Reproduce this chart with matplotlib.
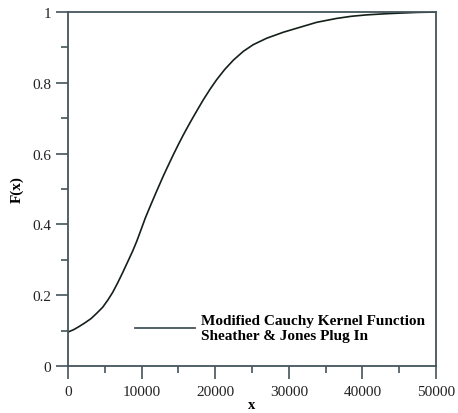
import matplotlib
matplotlib.use("Agg")
import matplotlib.pyplot as plt
from matplotlib.ticker import MultipleLocator

# values
x_vals = [0, 800, 1540, 2300, 3130, 3900, 4710, 5400, 6070, 6750, 7430, 8100,
          8790, 9330, 9920, 10500, 11140, 12000, 12950, 13600, 14310, 15000,
          15670, 16350, 17030, 17700, 18380, 19300, 20200, 21300, 22460,
          23820, 25180, 26990, 29260, 31520, 33790, 36500, 38500, 40580,
          43000, 45110, 47500, 50000]
f_vals = [0.096, 0.103, 0.112, 0.122, 0.134, 0.149, 0.166, 0.186, 0.208, 0.235,
          0.264, 0.294, 0.325, 0.352, 0.385, 0.418, 0.450, 0.492, 0.537, 0.566,
          0.597, 0.626, 0.653, 0.679, 0.704, 0.728, 0.752, 0.782, 0.809, 0.838,
          0.864, 0.889, 0.908, 0.926, 0.943, 0.957, 0.971, 0.982, 0.988, 0.992,
          0.995, 0.997, 0.999, 1.0]
x_ticks = [0, 10000, 20000, 30000, 40000, 50000]
y_ticks = [0, 0.2, 0.4, 0.6, 0.8, 1]
y_tick_labels = ["0", "0.2", "0.4", "0.6", "0.8", "1"]
legend_label = "Modified Cauchy Kernel Function\nSheather & Jones Plug In"

plt.rcParams["font.family"] = ["Liberation Serif", "DejaVu Serif"]

spine_col = "#44555c"

fig = plt.figure(figsize=(4.58, 4.14), dpi=100)
ax = fig.add_axes([0.1485, 0.1135, 0.8035, 0.855])

ax.plot(x_vals, f_vals, color="#142018", linewidth=1.2, label=legend_label,
        solid_joinstyle="round")

ax.set_xlim(0, 50000)
ax.set_ylim(0, 1)
ax.set_xticks(x_ticks)
ax.set_yticks(y_ticks)
ax.set_yticklabels(y_tick_labels)
ax.xaxis.set_minor_locator(MultipleLocator(5000))
ax.yaxis.set_minor_locator(MultipleLocator(0.1))

for s in ax.spines.values():
    s.set_color(spine_col)
    s.set_linewidth(1.3)

ax.tick_params(which="major", direction="out", length=9, width=1.2,
               color=spine_col, labelsize=11, labelcolor="#222222")
ax.tick_params(which="minor", direction="out", length=5, width=1.2, color=spine_col)
ax.tick_params(axis="x", which="major", pad=5)
ax.tick_params(axis="y", which="major", pad=3)

ax.set_xlabel("x", fontsize=10.5, fontweight="bold", labelpad=0)
ax.set_ylabel("F(x)", fontsize=11, fontweight="bold", labelpad=6)

leg = ax.legend(loc="center left", bbox_to_anchor=(0.182, 0.107), frameon=False,
                borderpad=0, borderaxespad=0, handlelength=3.9, handletextpad=0.45,
                prop={"weight": "bold", "size": 11})
for line in leg.get_lines():
    line.set_color(spine_col)
    line.set_linewidth(1.3)

fig.savefig("out.png", dpi=100, facecolor="white")
